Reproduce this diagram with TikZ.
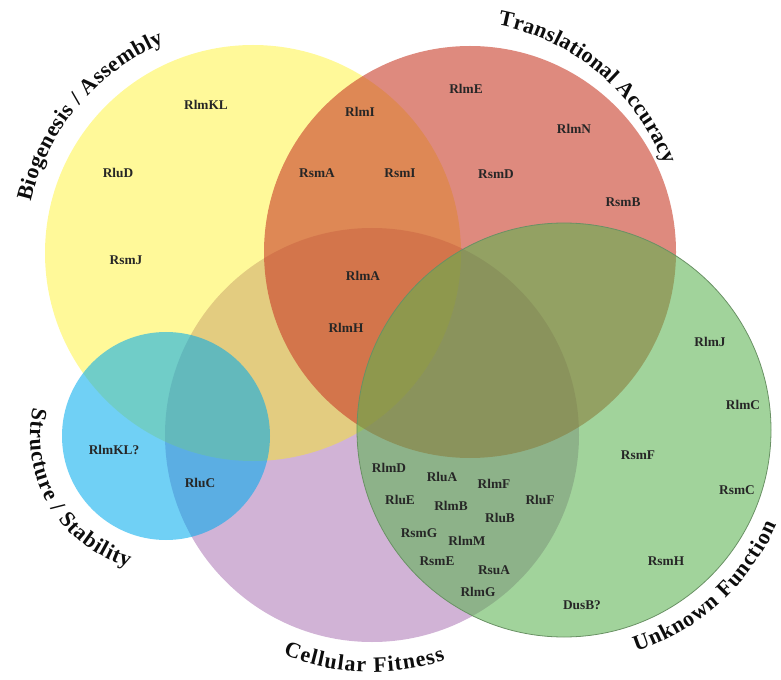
\documentclass[tikz,border=0pt]{standalone}
\usepackage{fontspec}
\setmainfont{Liberation Serif}
\usetikzlibrary{decorations.text,calc}

\definecolor{bioyellow}{RGB}{255,240,0}
\definecolor{fitpurple}{RGB}{115,25,130}
\definecolor{accred}{RGB}{200,60,40}
\definecolor{unkgreen}{RGB}{90,178,80}
\definecolor{unkedge}{RGB}{105,145,100}
\definecolor{stabblue}{RGB}{0,171,237}
\newcommand{\setfont}{\fontsize{16.5}{18}\selectfont\bfseries}

\begin{document}
\begin{tikzpicture}[x=0.75pt,y=0.75pt,
  gene/.style={font=\fontsize{10}{12}\selectfont\bfseries, text=black!85, inner sep=0pt},
  settitle/.style={decorate, decoration={text along path, text={|\setfont|#1},
    text align=fit to path, text color=black!95}}]
\useasboundingbox (0,0) rectangle (781,679);

\coordinate (cY) at (253,426);
\coordinate (cR) at (470,427);
\coordinate (cP) at (372,244);
\coordinate (cG) at (564,249);
\coordinate (cB) at (166,243);
\coordinate (cT) at (455,434);

% sets
\fill[fitpurple, fill opacity=0.33] (cP) circle (207);
\fill[bioyellow, fill opacity=0.4] (cY) circle (208);
\fill[accred, fill opacity=0.6] (cR) circle (206);
\fill[unkgreen, fill opacity=0.57] (cG) circle (207);
\draw[unkedge, line width=0.6pt] (cG) circle (207);
\fill[stabblue, fill opacity=0.56] (cB) circle (104);

% set titles
\path[settitle={Biogenesis / Assembly}] ($(cY)+(167:228)$) arc[start angle=167, end angle=113, radius=228];
\path[settitle={Translational Accuracy}] ($(cT)+(79:224)$) arc[start angle=79, end angle=21, radius=224];
\path[settitle={Unknown Function}] ($(cG)+(-72:233)$) arc[start angle=-72, end angle=-24, radius=233];
\path[settitle={Cellular Fitness}] ($(cP)+(-112:237)$) arc[start angle=-112, end angle=-72, radius=237];
\path[settitle={Structure / Stability}] ($(cB)+(168:136)$) arc[start angle=168, end angle=254, radius=136];

% genes
\foreach \t/\x/\y [count=\i] in {RlmKL/206/574, RlmI/360/567, RluD/118/506,
  RsmA/317/506, RsmI/400/506, RsmD/496/505, RlmE/466/590, RlmN/574/550,
  RsmB/623/477, RsmJ/126/419, RlmA/363/403, RlmH/346/351, RlmKL?/114/229,
  RluC/200/196, RlmJ/710/337, RlmC/743/274, RsmF/638/224, RsmC/737/189,
  RsmH/666/118, DusB?/582/74, RlmD/389/211, RluA/442/202, RlmF/494/195,
  RluE/400/179, RlmB/451/173, RluF/540/179, RluB/500/161, RsmG/419/146,
  RlmM/467/138, RsmE/437/118, RsuA/494/109, RlmG/478/87} {
\node[gene] (g\i) at (\x,\y) {\t};
}
\end{tikzpicture}
\end{document}
